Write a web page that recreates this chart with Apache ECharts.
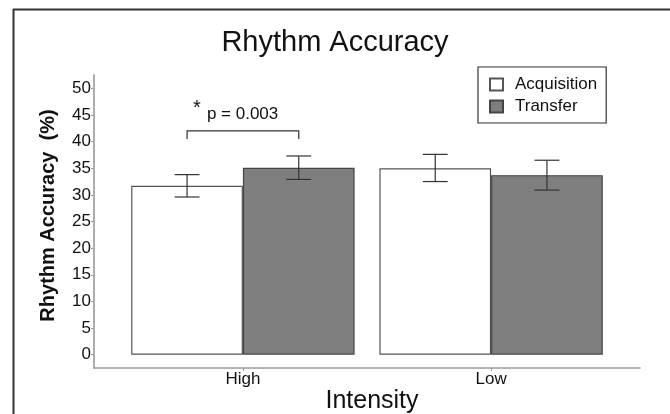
<!DOCTYPE html>
<html>
<head>
<meta charset="utf-8">
<script src="https://cdn.jsdelivr.net/npm/echarts@6/dist/echarts.min.js"></script>
<style>html,body{margin:0;padding:0;background:#fff;}#c{width:670px;height:414px;}</style>
</head>
<body>
<div id="c"></div>
<script>
// ---- data ----
const categories = ['High', 'Low'];
const seriesNames = ['Acquisition', 'Transfer'];
const acquisition = [31.7, 35.0];
const transfer = [35.1, 33.7];
const acquisitionErrLow = [29.6, 32.5];
const acquisitionErrHigh = [33.8, 37.6];
const transferErrLow = [32.9, 30.9];
const transferErrHigh = [37.3, 36.5];
const yTicks = [0, 5, 10, 15, 20, 25, 30, 35, 40, 45, 50];
const sigCategory = 'High';
const sigBracketLow = 40.5;
const sigBracketHigh = 42;
const sigText = 'p = 0.003';
const sigStar = '*';

const FONT = 'Liberation Sans, Arial, sans-serif';
const chart = echarts.init(document.getElementById('c'), null, {renderer: 'canvas'});

const xPos = categories.map((c, i) => i + 1);
const dodge = 0.225;   // half of a bar's width in category units
const errHalf = 0.05;

function errData(lo, hi) {
  return xPos.map((x, i) => [x, lo[i], hi[i]]);
}
function errRender(offset) {
  return function (params, api) {
    const x = api.value(0) + offset;
    const pl = api.coord([x - errHalf, api.value(1)]);
    const pr = api.coord([x + errHalf, api.value(1)]);
    const ph = api.coord([x + errHalf, api.value(2)]);
    const pc1 = api.coord([x, api.value(1)]);
    const pc2 = api.coord([x, api.value(2)]);
    const st = {stroke: '#333', lineWidth: 1.2, fill: null};
    return {
      type: 'group',
      children: [
        {type: 'line', shape: {x1: pl[0], y1: pl[1], x2: pr[0], y2: pr[1]}, style: st},
        {type: 'line', shape: {x1: pl[0], y1: ph[1], x2: pr[0], y2: ph[1]}, style: st},
        {type: 'line', shape: {x1: pc1[0], y1: pc1[1], x2: pc2[0], y2: pc2[1]}, style: st}
      ]
    };
  };
}

const sigX = categories.indexOf(sigCategory) + 1;

const option = {
  animation: false,
  backgroundColor: '#fff',
  grid: {left: 94, right: 30, top: 75, bottom: 46, outerBoundsMode: 'none', containLabel: false},
  legend: {
    data: seriesNames,
    orient: 'vertical',
    left: 478,
    top: 67,
    padding: [9, 9, 8, 11],
    borderColor: '#333',
    borderWidth: 1.2,
    itemWidth: 13,
    itemHeight: 12,
    itemGap: 5,
    icon: 'rect',
    textStyle: {fontFamily: FONT, fontSize: 17, color: '#111', padding: [0, 0, 0, 7]}
  },
  xAxis: {
    type: 'value',
    min: 0.4,
    max: 2.6,
    splitLine: {show: false},
    axisLine: {onZero: false, lineStyle: {color: '#9a9a9a', width: 1.6}},
    axisTick: {customValues: xPos, length: 3, lineStyle: {color: '#9a9a9a'}},
    axisLabel: {
      customValues: xPos,
      formatter: v => categories[Math.round(v) - 1] || '',
      fontFamily: FONT, fontSize: 17, color: '#111', margin: 3
    },
    name: 'Intensity',
    nameLocation: 'middle',
    nameGap: 21,
    nameMoveOverlap: false,
    nameTextStyle: {fontFamily: FONT, fontSize: 25, color: '#111', padding: [0, 0, 0, 10]}
  },
  yAxis: {
    type: 'value',
    min: -2.5,
    max: 52.5,
    splitLine: {show: false},
    axisLine: {show: true, onZero: false, lineStyle: {color: '#9a9a9a', width: 1.6}},
    axisTick: {show: true, customValues: yTicks, length: 3, lineStyle: {color: '#9a9a9a'}},
    axisLabel: {customValues: yTicks, fontFamily: FONT, fontSize: 17, color: '#111', margin: 3},
    name: 'Rhythm Accuracy  (%)',
    nameLocation: 'middle',
    nameGap: 36,
    nameMoveOverlap: false,
    nameTextStyle: {fontFamily: FONT, fontSize: 20, fontWeight: 'bold', color: '#111', padding: [0, 0, 0, 12]}
  },
  series: [
    {
      name: seriesNames[0],
      type: 'bar',
      barWidth: '45%',
      barGap: '0%',
      data: xPos.map((x, i) => [x, acquisition[i]]),
      itemStyle: {color: '#ffffff', borderColor: '#555', borderWidth: 1.2}
    },
    {
      name: seriesNames[1],
      type: 'bar',
      barWidth: '45%',
      barGap: '0%',
      data: xPos.map((x, i) => [x, transfer[i]]),
      itemStyle: {color: '#7f7f7f', borderColor: '#444', borderWidth: 1.2}
    },
    {
      type: 'custom',
      renderItem: errRender(-dodge),
      data: errData(acquisitionErrLow, acquisitionErrHigh),
      z: 5, silent: true
    },
    {
      type: 'custom',
      renderItem: errRender(dodge),
      data: errData(transferErrLow, transferErrHigh),
      z: 5, silent: true
    },
    {
      type: 'custom',
      z: 5, silent: true,
      data: [[sigX, sigBracketLow, sigBracketHigh]],
      renderItem: function (params, api) {
        const x = api.value(0);
        const a = api.coord([x - dodge, api.value(1)]);
        const b = api.coord([x - dodge, api.value(2)]);
        const c = api.coord([x + dodge, api.value(2)]);
        const d = api.coord([x + dodge, api.value(1)]);
        const mid = api.coord([x, api.value(2)]);
        return {
          type: 'group',
          children: [
            {type: 'polyline', shape: {points: [a, b, c, d]}, style: {stroke: '#333', lineWidth: 1.2, fill: null}},
            {type: 'text', style: {text: sigText, x: mid[0] - 36, y: mid[1] - 17, textAlign: 'left', textVerticalAlign: 'middle', font: '17px ' + FONT, fill: '#111'}},
            {type: 'text', style: {text: sigStar, x: mid[0] - 46, y: mid[1] - 22, textAlign: 'center', textVerticalAlign: 'middle', font: '20px ' + FONT, fill: '#111'}}
          ]
        };
      }
    }
  ],
  graphic: [
    {type: 'text', left: 'center', top: 28, style: {text: 'Rhythm Accuracy', font: '29px ' + FONT, fill: '#111'}, x: 35},
    {type: 'line', shape: {x1: 13, y1: 9.5, x2: 670, y2: 9.5}, style: {stroke: '#333', lineWidth: 2}},
    {type: 'line', shape: {x1: 13.5, y1: 9, x2: 13.5, y2: 414}, style: {stroke: '#333', lineWidth: 2}}
  ]
};
chart.setOption(option);
</script>
</body>
</html>
